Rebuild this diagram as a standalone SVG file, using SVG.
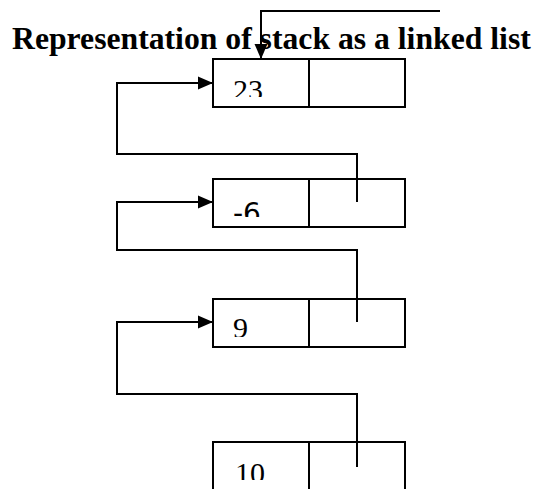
<svg xmlns="http://www.w3.org/2000/svg" width="539" height="489" viewBox="0 0 539 489">
  <style>
    .cell { fill: #fff; stroke: #000; stroke-width: 2; }
    .div { stroke: #000; stroke-width: 2; }
    .link { fill: none; stroke: #000; stroke-width: 2; }
    .val { font-family: "Liberation Serif", "Times New Roman", serif; font-size: 30px; fill: #000; }
    .val-sans { font-family: "DejaVu Sans", "Liberation Sans", sans-serif; font-size: 28px; fill: #000; }
    .title { font-family: "Liberation Serif", "Times New Roman", serif; font-weight: bold; font-size: 31.7px; fill: #000; }
  </style>
  <defs>
    <marker id="arrow" markerUnits="userSpaceOnUse" markerWidth="16" markerHeight="14" refX="15" refY="6.5" orient="auto" overflow="visible">
      <path d="M0,0 L15,6.5 L0,13 z" fill="#000"/>
    </marker>
    <!-- value text is cut off by the top part of the data cell -->
    <clipPath id="clip1"><rect x="213" y="59" width="96" height="38"/></clipPath>
    <clipPath id="clip2"><rect x="213" y="179" width="96" height="38"/></clipPath>
    <clipPath id="clip3"><rect x="213" y="299" width="96" height="38"/></clipPath>
    <clipPath id="clip4"><rect x="213" y="442" width="96" height="38"/></clipPath>
  </defs>

  <rect width="539" height="489" fill="#fff"/>

  <text class="title" x="12" y="49">Representation of stack as a linked list</text>

  <g id="node1">
    <rect class="cell" x="213" y="59" width="192" height="48"/>
    <line class="div" x1="309" y1="59" x2="309" y2="107"/>
    <text class="val" x="233" y="100" clip-path="url(#clip1)">23</text>
  </g>

  <g id="node2">
    <rect class="cell" x="213" y="179" width="192" height="48"/>
    <line class="div" x1="309" y1="179" x2="309" y2="227"/>
    <text class="val-sans" x="233" y="223" clip-path="url(#clip2)">-6</text>
  </g>

  <g id="node3">
    <rect class="cell" x="213" y="299" width="192" height="48"/>
    <line class="div" x1="309" y1="299" x2="309" y2="347"/>
    <text class="val" x="233" y="338" clip-path="url(#clip3)">9</text>
  </g>

  <g id="node4">
    <rect class="cell" x="213" y="442" width="192" height="60"/>
    <line class="div" x1="309" y1="442" x2="309" y2="502"/>
    <text class="val" x="235" y="483" clip-path="url(#clip4)">10</text>
  </g>

  <g id="connectors">
    <path class="link" d="M440,11 H261 V59" marker-end="url(#arrow)"/>
    <path class="link" d="M357,202 V154 H117 V83 H213" marker-end="url(#arrow)"/>
    <path class="link" d="M357,322 V250 H117 V202 H213" marker-end="url(#arrow)"/>
    <path class="link" d="M357,467 V394 H117 V322 H213" marker-end="url(#arrow)"/>
  </g>
</svg>
